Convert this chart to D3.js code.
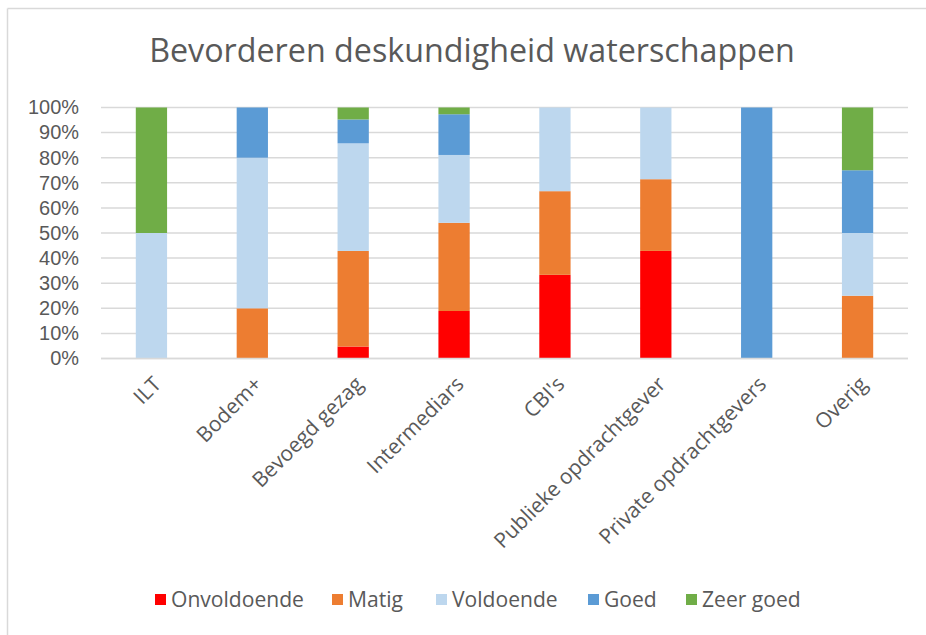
<!DOCTYPE html>
<html><head><meta charset="utf-8">
<script src="https://cdn.jsdelivr.net/npm/d3@7"></script>
<style>
html,body{margin:0;padding:0;background:#fff;}
svg{display:block;font-family:"Open Sans",sans-serif;}
</style></head>
<body><svg id="chart" width="926" height="635"></svg>
<script>
const title = "Bevorderen deskundigheid waterschappen";
const categories = ["ILT","Bodem+","Bevoegd gezag","Intermediars","CBI's","Publieke opdrachtgever","Private opdrachtgevers","Overig"];
const seriesNames = ["Onvoldoende","Matig","Voldoende","Goed","Zeer goed"];
const onvoldoende = [0, 0, 4.76, 18.92, 33.33, 42.86, 0, 0];
const matig       = [0, 20, 38.10, 35.14, 33.33, 28.57, 0, 25];
const voldoende   = [50, 60, 42.86, 27.03, 33.34, 28.57, 0, 25];
const goed        = [0, 20, 9.52, 16.22, 0, 0, 100, 25];
const zeerGoed    = [50, 0, 4.76, 2.70, 0, 0, 0, 25];
const yTicks = [0,10,20,30,40,50,60,70,80,90,100];
const colors = ["#FF0000","#ED7D31","#BDD7EE","#5B9BD5","#70AD47"];

const seriesValues = [onvoldoende, matig, voldoende, goed, zeerGoed];
const table = categories.map((c,i)=>{
  const row = {cat:c};
  seriesNames.forEach((s,j)=>row[s]=seriesValues[j][i]);
  return row;
});

const svg = d3.select("#chart");
const textColor = "#595959";

// chart border (top & left visible)
svg.append("line").attr("x1",7.5).attr("x2",926).attr("y1",8.5).attr("y2",8.5).attr("stroke","#d9d9d9").attr("stroke-width",1.5);
svg.append("line").attr("x1",7.5).attr("x2",7.5).attr("y1",8.5).attr("y2",635).attr("stroke","#d9d9d9").attr("stroke-width",1.5);

const x = d3.scaleBand().domain(categories).range([101,908]).paddingInner(0.69).paddingOuter(0.345);
const y = d3.scaleLinear().domain([0,100]).range([358.5,107.5]);

// title
const t = svg.append("text").attr("x",472).attr("y",62).attr("text-anchor","middle")
  .attr("fill",textColor).style("font-size","30px").text(title);
const tw = t.node().getComputedTextLength();
t.style("font-size",(30*646/tw).toFixed(2)+"px");

// gridlines
svg.append("g").selectAll("line").data(yTicks).join("line")
  .attr("x1",101).attr("x2",908).attr("y1",d=>y(d)).attr("y2",d=>y(d))
  .attr("stroke","#d9d9d9").attr("stroke-width",1.5);

// y axis labels
const yAxis = d3.axisLeft(y).tickValues(yTicks).tickFormat(d=>d+"%").tickSize(0).tickPadding(0);
const yg = svg.append("g").attr("transform","translate(79,0)").call(yAxis);
yg.select(".domain").remove();
yg.selectAll("text").attr("fill",textColor).style("font-family","'Liberation Sans',Arial,sans-serif").style("font-size","20px");
{
  const n = yg.selectAll("text").filter(d=>d===100).node();
  const w = n.getComputedTextLength();
  yg.selectAll("text").style("font-size",Math.min(20.5,20*51/w).toFixed(2)+"px");
}

// stacked bars
const stack = d3.stack().keys(seriesNames);
const stacked = stack(table);
svg.append("g").selectAll("g").data(stacked).join("g")
  .attr("fill",(d,i)=>colors[i])
  .selectAll("rect").data(d=>d).join("rect")
  .attr("x",d=>x(d.data.cat)).attr("width",x.bandwidth())
  .attr("y",d=>y(d[1])).attr("height",d=>Math.max(0,y(d[0])-y(d[1])));

// baseline
svg.append("line").attr("x1",101).attr("x2",908).attr("y1",y(0)).attr("y2",y(0))
  .attr("stroke","#d9d9d9").attr("stroke-width",1.5);

// x axis labels
const xAxis = d3.axisBottom(x).tickSize(0).tickPadding(0);
const xg = svg.append("g").attr("transform","translate(0,"+y(0)+")").call(xAxis);
xg.select(".domain").remove();
xg.selectAll("text").attr("fill",textColor).style("font-family","'Open Sans',sans-serif").style("font-size","20px")
  .attr("text-anchor","end").attr("dy",null).attr("y",null);
{
  const n = xg.selectAll("text").filter(d=>d==="Publieke opdrachtgever").node();
  const w = n.getComputedTextLength();
  xg.selectAll("text").style("font-size",(20*232/w).toFixed(2)+"px");
}
xg.selectAll("text").attr("transform","translate(11,27) rotate(-45)");

// legend
const legendX = [155,332,436,588,686];
const lg = svg.append("g").selectAll("g").data(seriesNames).join("g")
  .attr("transform",(d,i)=>"translate("+legendX[i]+",600)");
lg.append("rect").attr("x",0).attr("y",-6).attr("width",11).attr("height",11).attr("fill",(d,i)=>colors[i]);
const lt = lg.append("text").attr("x",16).attr("y",0).attr("dy","0.35em").attr("fill",textColor)
  .style("font-size","20px").text(d=>d);
{
  const w = lt.filter(d=>d==="Onvoldoende").node().getComputedTextLength();
  lt.style("font-size",(20*133/w).toFixed(2)+"px");
}
</script>
</body></html>
